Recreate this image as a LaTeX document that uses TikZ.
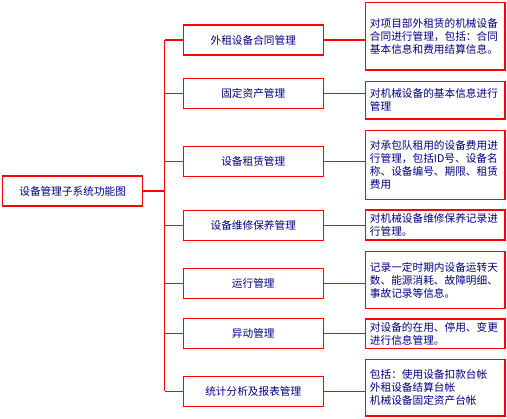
\documentclass[tikz,border=0pt]{standalone}
\usepackage{fontspec}
\newfontfamily\cjk{Noto Sans CJK SC}
\usepackage{tikz}
\usetikzlibrary{positioning, calc}
\usepackage{xcolor}
\definecolor{lineRed}{HTML}{FF0000}
\definecolor{textNavy}{HTML}{000080}

\begin{document}
\begin{tikzpicture}[
    x=0.75pt, y=-0.75pt,
    box/.style={rectangle, draw=lineRed, line width=0.9pt, minimum width=105pt, minimum height=22.5pt, align=center, text=textNavy, font=\cjk\fontsize{8}{9.75}\selectfont},
    note/.style={rectangle, draw=lineRed, line width=0.9pt, text width=98pt, inner xsep=3.25pt, inner ysep=2pt, align=left, text=textNavy, font=\cjk\fontsize{8}{9.75}\selectfont},
    link/.style={draw=lineRed, line width=0.9pt},
]
    \useasboundingbox (0,0) rectangle (507,418);

    % Root
    \node[box] (root) at (72.7,191) {设备管理子系统功能图};
    \coordinate (spine) at (164.7,191);

    % Functions
    \node[box] (contract) at (253.3,40) {外租设备合同管理};
    \node[box] (asset) at (253.3,93.3) {固定资产管理};
    \node[box] (lease) at (253.3,161.3) {设备租赁管理};
    \node[box] (repair) at (253.3,225.2) {设备维修保养管理};
    \node[box] (operate) at (253.3,283.8) {运行管理};
    \node[box] (change) at (253.3,333.3) {异动管理};
    \node[box] (report) at (253.3,391.2) {统计分析及报表管理};

    % Descriptions
    \node[note, minimum height=50.5pt] (contractN) at (435.3,36.3) {对项目部外租赁的机械设备\\合同进行管理，包括：合同\\基本信息和费用结算信息。};
    \node[note, minimum height=28pt] (assetN) at (435.3,100.3) {对机械设备的基本信息进行\\管理};
    \node[note, minimum height=51.5pt] (leaseN) at (435.3,165) {对承包队租用的设备费用进\\行管理，包括ID号、设备名\\称、设备编号、期限、租赁\\费用};
    \node[note, minimum height=22.5pt] (repairN) at (435.3,225) {对机械设备维修保养记录进\\行管理。};
    \node[note, minimum height=42.5pt] (operateN) at (435.3,280) {记录一定时期内设备运转天\\数、能源消耗、故障明细、\\事故记录等信息。};
    \node[note, minimum height=22pt] (changeN) at (435.3,333.7) {对设备的在用、停用、变更\\进行信息管理。};
    \node[note, minimum height=42.5pt] (reportN) at (435.3,387.7) {包括：使用设备扣款台帐\\外租设备结算台帐\\机械设备固定资产台帐};

    % Tree lines
    \draw[link] (root.east) -- (spine);
    \draw[link] (contract.west -| spine) -- (report.west -| spine);
    \draw[link] (contract.west -| spine) -- (contract.west);
    \draw[link] (asset.west -| spine) -- (asset.west);
    \draw[link] (lease.west -| spine) -- (lease.west);
    \draw[link] (repair.west -| spine) -- (repair.west);
    \draw[link] (operate.west -| spine) -- (operate.west);
    \draw[link] (change.west -| spine) -- (change.west);
    \draw[link] (report.west -| spine) -- (report.west);

    % Box to description
    \draw[link] (contract.east) -- (contract.east -| contractN.west);
    \draw[link] (asset.east) -- (asset.east -| assetN.west);
    \draw[link] (lease.east) -- (lease.east -| leaseN.west);
    \draw[link] (repair.east) -- (repair.east -| repairN.west);
    \draw[link] (operate.east) -- (operate.east -| operateN.west);
    \draw[link] (change.east) -- (change.east -| changeN.west);
    \draw[link] (report.east) -- (report.east -| reportN.west);
\end{tikzpicture}
\end{document}
